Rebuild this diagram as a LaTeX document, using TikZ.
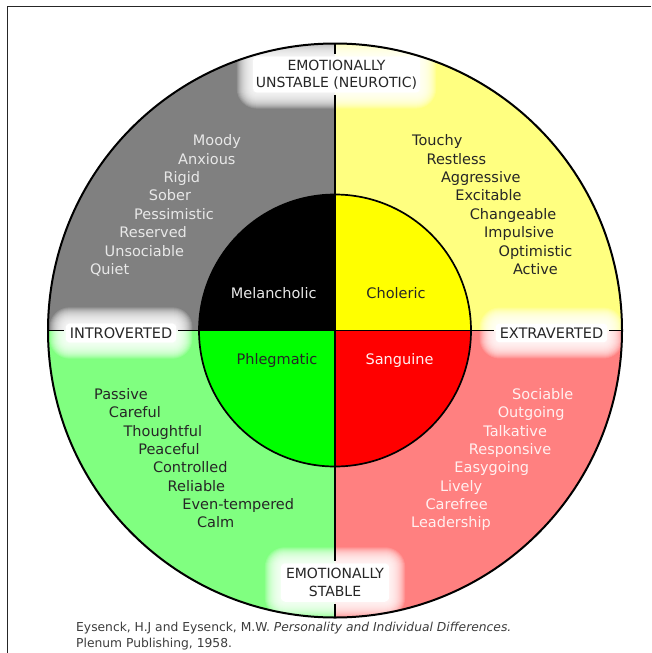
\documentclass[tikz,border=0pt]{standalone}
\usepackage{fontspec}
\setmainfont{DejaVu Sans}
\pgfdeclarelayer{back}
\pgfdeclarelayer{mid}
\pgfsetlayers{back,mid,main}
\definecolor{qgray}{HTML}{808080}
\definecolor{qyellow}{HTML}{FFFF80}
\definecolor{qgreen}{HTML}{80FF80}
\definecolor{qpink}{HTML}{FF8080}
\definecolor{iyellow}{HTML}{FFFF00}
\definecolor{igreen}{HTML}{00FF00}
\definecolor{ired}{HTML}{FF0000}
\definecolor{darktxt}{HTML}{262626}
\definecolor{lighttxt}{HTML}{E8E8E8}
\definecolor{pinktxt}{HTML}{FFF0F0}
\definecolor{captxt}{HTML}{3C3C3C}
\newcommand\glowof[1]{%
  \begin{pgfonlayer}{mid}
  \fill[white,rounded corners=4pt]
    ([shift={(2,2)}]#1.north west) rectangle ([shift={(-2,-2)}]#1.south east);
  \foreach \k in {-1,...,14}{%
    \pgfmathsetmacro\rc{max(\k+6,3)}%
    \fill[white,opacity=0.14,rounded corners=\rc pt]
      ([shift={(-\k,-\k)}]#1.north west) rectangle ([shift={(\k,\k)}]#1.south east);}
  \end{pgfonlayer}}
\begin{document}
\begin{tikzpicture}[x=1pt,y=-1pt,
  lab/.style={inner sep=5pt,align=center,
    text=darktxt,font=\fontsize{14}{17.5}\selectfont},
  word/.style={anchor=base west,inner sep=0pt,font=\fontsize{14.5}{17.5}\selectfont},
  inner/.style={inner sep=0pt,font=\fontsize{14.5}{17.5}\selectfont},
  captext/.style={anchor=base west,inner sep=0pt,text=captxt,font=\fontsize{12.3}{16}\selectfont},
  axis/.style={line width=1.5pt,black},
  ring/.style={line width=2pt,black}]
\useasboundingbox (0,0) rectangle (651,653);
\coordinate (C) at (335,330.5);
\coordinate (T) at (335,43.5);
\coordinate (B) at (335,617.5);
\coordinate (L) at (48,330.5);
\coordinate (R) at (622,330.5);
% frame
\draw[line width=1pt,black!85] (7.5,653) -- (7.5,6.5) -- (651,6.5);
% quadrant fills
\begin{pgfonlayer}{back}
  \begin{scope}
    \clip (C) circle[radius=287pt];
    \fill[qgray] (40,38) rectangle (C);
    \fill[qyellow] (630,38) rectangle (C);
    \fill[qgreen] (40,625) rectangle (C);
    \fill[qpink] (630,625) rectangle (C);
  \end{scope}
  \begin{scope}
    \clip (C) circle[radius=136pt];
    \fill[black] (190,190) rectangle (C);
    \fill[iyellow] (480,190) rectangle (C);
    \fill[igreen] (190,470) rectangle (C);
    \fill[ired] (480,470) rectangle (C);
  \end{scope}
\end{pgfonlayer}
\draw[ring] (C) circle[radius=287pt];
\draw[ring,line width=1.7pt] (C) circle[radius=136pt];
% axis labels
\node[lab] (topl) at (336.5,74.5) {EMOTIONALLY\\UNSTABLE (NEUROTIC)};
\node[lab,inner sep=7pt] (botl) at (335,582.5) {EMOTIONALLY\\STABLE};
\node[lab,font=\fontsize{14.5}{17.5}\selectfont,inner sep=6pt] (intro) at (121,333) {INTROVERTED};
\node[lab,font=\fontsize{14.5}{17.5}\selectfont,inner sep=6pt] (extra) at (551.5,333) {EXTRAVERTED};
\glowof{topl}
\glowof{botl}
\glowof{intro}
\glowof{extra}
% axes
\draw[axis] (T) -- (T |- topl.north);
\draw[axis] (topl.south -| T) -- (botl.north -| T);
\draw[axis] (botl.south -| T) -- (B);
\draw[axis] (L) -- (L -| intro.west);
\draw[axis] (intro.east |- L) -- (extra.west |- L);
\draw[axis] (extra.east |- L) -- (R);
% inner labels
\node[inner,text=lighttxt] (mel) at (273.7,293) {Melancholic};
\node[inner,text=darktxt] (cho) at (396,293) {Choleric};
\node[inner,text=darktxt] (phl) at (277,360) {Phlegmatic};
\node[inner,text=pinktxt] (san) at (399.5,360) {Sanguine};
% word lists
\foreach \t [count=\i from 0] in {Moody,Anxious,Rigid,Sober,Pessimistic,Reserved,Unsociable,Quiet}
  \node[word,text=lighttxt] (gw\i) at (192.7-14.7*\i,145.7+18.4*\i) {\t};
\foreach \t [count=\i from 0] in {Touchy,Restless,Aggressive,Excitable,Changeable,Impulsive,Optimistic,Active}
  \node[word,text=darktxt] (yw\i) at (412+14.4*\i,145.7+18.4*\i) {\t};
\foreach \t [count=\i from 0] in {Passive,Careful,Thoughtful,Peaceful,Controlled,Reliable,Even-tempered,Calm}
  \node[word,text=darktxt] (ew\i) at (94+14.7*\i,399.5+18.3*\i) {\t};
\foreach \t [count=\i from 0] in {Sociable,Outgoing,Talkative,Responsive,Easygoing,Lively,Carefree,Leadership}
  \node[word,text=pinktxt] (pw\i) at (512-14.43*\i,399.5+18.3*\i) {\t};
% caption
\node[captext] (cap1) at (76,631.5)
  {Eysenck, H.J and Eysenck, M.W. \textit{Personality and Individual Differences.}};
\node[captext] (cap2) at (76,647.5) {Plenum Publishing, 1958.};
\end{tikzpicture}
\end{document}
